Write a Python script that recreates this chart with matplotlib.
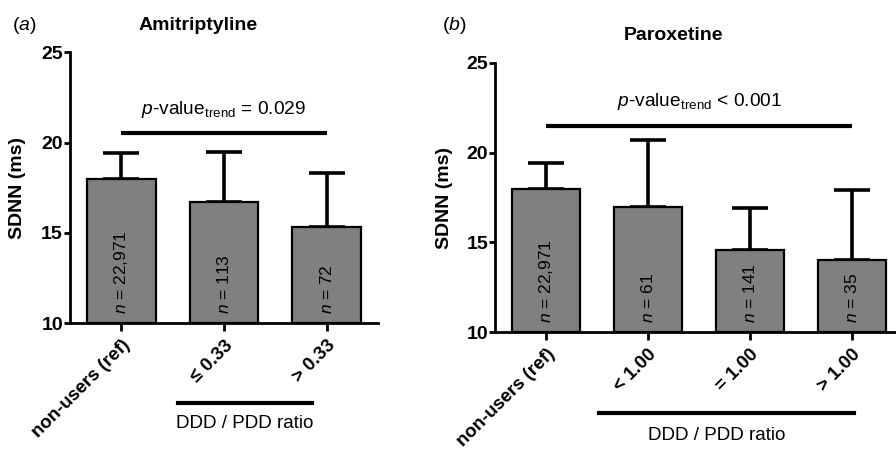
import matplotlib
matplotlib.use('Agg')
import matplotlib.pyplot as plt
import matplotlib.transforms as mtransforms
import numpy as np

plt.rcParams['font.family'] = ['Liberation Sans', 'DejaVu Sans']
plt.rcParams['mathtext.fontset'] = 'custom'
plt.rcParams['mathtext.rm'] = 'Liberation Sans'
plt.rcParams['mathtext.it'] = 'Liberation Sans:italic'
plt.rcParams['mathtext.bf'] = 'Liberation Sans:bold'

# --- data -------------------------------------------------
a_labels = ['non-users (ref)', '\u2264 0.33', '> 0.33']
a_mean = [18.0, 16.7, 15.3]
a_upper = [19.4, 19.5, 18.3]
a_n = ['22,971', '113', '72']
a_trend = 20.5
a_p = '= 0.029'

b_labels = ['non-users (ref)', '< 1.00', '= 1.00', '> 1.00']
b_mean = [18.0, 17.0, 14.6, 14.0]
b_upper = [19.4, 20.7, 16.9, 17.9]
b_n = ['22,971', '61', '141', '35']
b_trend = 21.5
b_p = '< 0.001'

BAR_C = '#808080'


def draw_panel(ax, labels, mean, upper, nlab, trend, ptxt, ptxt_y):
    x = np.arange(len(labels))
    mean = np.array(mean)
    upper = np.array(upper)
    ax.errorbar(x, mean, yerr=[np.zeros_like(mean), upper - mean], fmt='none',
                ecolor='black', elinewidth=2.6, capsize=13, capthick=2.6, zorder=1)
    ax.bar(x, mean - 10, bottom=10, width=0.67, color=BAR_C, edgecolor='black',
           linewidth=1.6, zorder=2)
    for xi, n in zip(x, nlab):
        ax.text(xi, 10.5, r'$\mathit{n}$ = ' + n, rotation=90, ha='center', va='bottom',
                fontsize=12.5, zorder=3)
    # trend bar and p-value
    ax.plot([0, len(labels) - 1], [trend, trend], color='black', lw=3, clip_on=False,
            solid_capstyle='butt')
    ax.text((len(labels) - 1) / 2, ptxt_y,
            r'$\mathit{p}$-value$_{\mathrm{trend}}$ ' + ptxt,
            ha='center', va='center', fontsize=13.8)

    ax.set_ylim(10, 25)
    ax.set_xlim(-0.5, len(labels) - 0.5)
    ax.set_yticks([10, 15, 20, 25])
    ax.set_xticks(x)
    ax.set_xticklabels(labels, rotation=45, ha='right', rotation_mode='anchor',
                       fontsize=13.4, fontweight='bold')
    for t in ax.get_yticklabels():
        t.set_fontweight('bold')
        t.set_fontsize(14)
    ax.spines['top'].set_visible(False)
    ax.spines['right'].set_visible(False)
    ax.spines['left'].set_linewidth(2)
    ax.spines['bottom'].set_linewidth(2)
    ax.tick_params(axis='y', width=2, length=4, pad=1)
    ax.tick_params(axis='x', width=2, length=6, pad=4)
    ax.set_ylabel('SDNN (ms)', fontsize=14, fontweight='bold')


fig = plt.figure(figsize=(8.96, 4.5), dpi=100)

ax1 = fig.add_axes([0.078, 0.282, 0.344, 0.602])
draw_panel(ax1, a_labels, a_mean, a_upper, a_n, a_trend, a_p, 21.8)
ax1.yaxis.set_label_coords(-0.143, 0.5)
tr1 = mtransforms.blended_transform_factory(ax1.transData, ax1.transAxes)
ax1.plot([0.55, 1.86], [-0.295, -0.295], color='black', lw=3, transform=tr1, clip_on=False)
ax1.text(1.2, -0.37, 'DDD / PDD ratio', transform=tr1, ha='center', va='center',
         fontsize=13.6)

ax2 = fig.add_axes([0.5525, 0.262, 0.4555, 0.598])
draw_panel(ax2, b_labels, b_mean, b_upper, b_n, b_trend, b_p, 22.85)
ax2.yaxis.set_label_coords(-0.103, 0.5)
tr2 = mtransforms.blended_transform_factory(ax2.transData, ax2.transAxes)
ax2.plot([0.52, 3.02], [-0.301, -0.301], color='black', lw=3, transform=tr2, clip_on=False)
ax2.text(1.67, -0.383, 'DDD / PDD ratio', transform=tr2, ha='center', va='center',
         fontsize=13.6)

# panel headings
fig.text(0.013, 1 - 25 / 450, r'($\mathit{a}$)', fontsize=14, va='center', ha='left')
fig.text(198 / 896, 1 - 25 / 450, 'Amitriptyline', fontsize=14, fontweight='bold',
         ha='center', va='center')
fig.text(442 / 896, 1 - 25 / 450, r'($\mathit{b}$)', fontsize=14, va='center', ha='left')
fig.text(673 / 896, 1 - 35 / 450, 'Paroxetine', fontsize=14, fontweight='bold',
         ha='center', va='center')

fig.savefig('out.png', dpi=100)
